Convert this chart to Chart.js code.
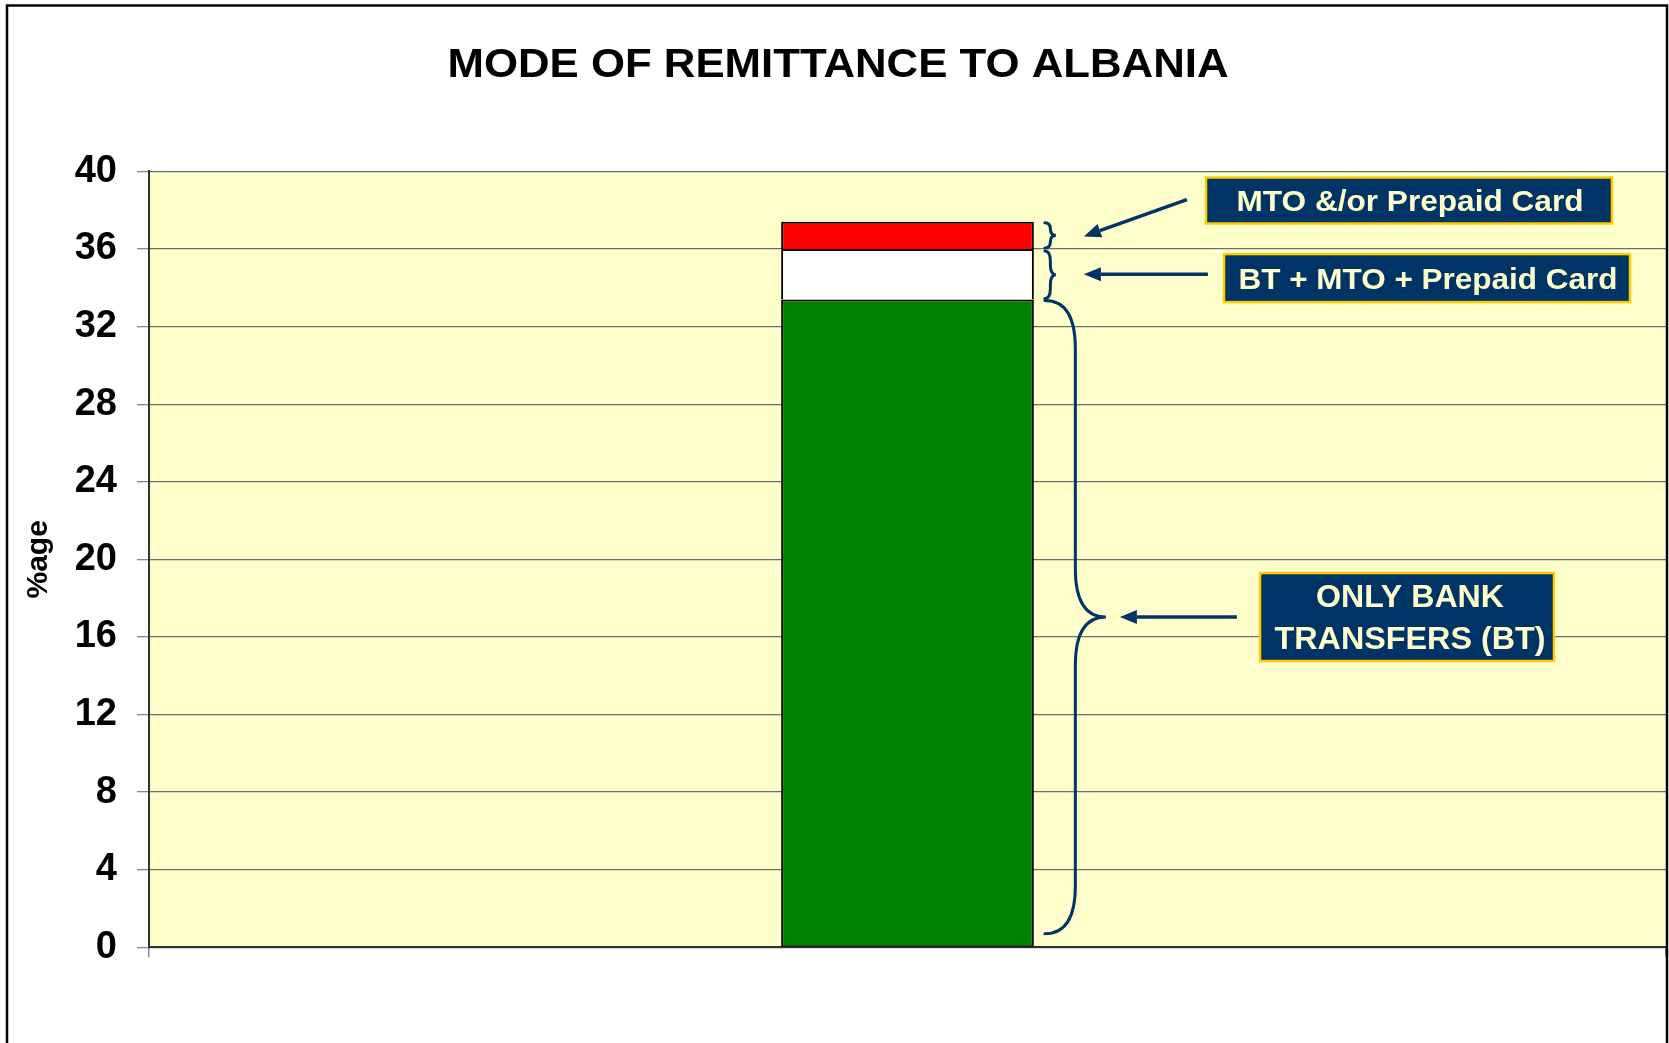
<!DOCTYPE html>
<html>
<head>
<meta charset="utf-8">
<title>Mode of remittance to Albania</title>
<script src="https://cdn.jsdelivr.net/npm/chart.js@4.4.0/dist/chart.umd.min.js"></script>
<style>
  html, body { margin: 0; padding: 0; background: #fff; overflow: hidden; }
  canvas { display: block; }
</style>
</head>
<body>
<canvas id="remit" width="1669" height="1043"></canvas>
<script>
// data
const categories = ['Albania'];
const onlyBankTransfers = [33.4];
const btMtoPrepaid = [2.6];
const mtoPrepaid = [1.4];
const chartTitle = 'MODE OF REMITTANCE TO ALBANIA';
const yAxisTitle = '%age';
const calloutTexts = [
    ['MTO &/or Prepaid Card'],
    ['BT + MTO + Prepaid Card'],
    ['ONLY BANK', 'TRANSFERS (BT)']
];

const NAVY = '#003366';
const BOX_BORDER = '#FFCC00';
const BOX_TEXT = '#FFFFCC';

// draw text squeezed / stretched to a given width
function fitText(ctx, text, cx, baseline, width, font, color) {
    ctx.save();
    ctx.font = font;
    ctx.fillStyle = color;
    ctx.textAlign = 'center';
    ctx.textBaseline = 'alphabetic';
    const w = ctx.measureText(text).width;
    ctx.translate(cx, baseline);
    ctx.scale(width / w, 1);
    ctx.fillText(text, 0, 0);
    ctx.restore();
}

function drawBrace(ctx, x, yTop, yBot, depth, r) {
    const half = depth / 2;
    const mid = (yTop + yBot) / 2;
    r = Math.min(r, (yBot - yTop) / 4);
    ctx.beginPath();
    ctx.moveTo(x, yTop);
    ctx.quadraticCurveTo(x + half, yTop, x + half, yTop + r);
    ctx.lineTo(x + half, mid - r);
    ctx.quadraticCurveTo(x + half, mid, x + depth, mid);
    ctx.quadraticCurveTo(x + half, mid, x + half, mid + r);
    ctx.lineTo(x + half, yBot - r);
    ctx.quadraticCurveTo(x + half, yBot, x, yBot);
    ctx.stroke();
}

function drawArrow(ctx, x1, y1, x2, y2) {
    const ang = Math.atan2(y2 - y1, x2 - x1);
    const len = 17, wid = 7;
    const bx = x2 - len * Math.cos(ang), by = y2 - len * Math.sin(ang);
    ctx.beginPath();
    ctx.moveTo(x1, y1);
    ctx.lineTo(bx, by);
    ctx.stroke();
    ctx.beginPath();
    ctx.moveTo(x2, y2);
    ctx.lineTo(bx + wid * Math.sin(ang), by - wid * Math.cos(ang));
    ctx.lineTo(bx - wid * Math.sin(ang), by + wid * Math.cos(ang));
    ctx.closePath();
    ctx.fill();
}

function drawBox(ctx, x1, y1, x2, y2) {
    ctx.fillStyle = NAVY;
    ctx.fillRect(x1, y1, x2 - x1, y2 - y1);
    ctx.strokeStyle = BOX_BORDER;
    ctx.lineWidth = 2.5;
    ctx.strokeRect(x1, y1, x2 - x1, y2 - y1);
}

const plotBackground = {
    id: 'plotBackground',
    beforeDraw(chart) {
        const {ctx, chartArea: a} = chart;
        ctx.save();
        ctx.fillStyle = '#FFFFCC';
        ctx.fillRect(a.left, a.top, a.right - a.left, a.bottom - a.top);
        ctx.restore();
    }
};

const callouts = {
    id: 'callouts',
    afterDraw(chart) {
        const ctx = chart.ctx;
        const y = chart.scales.y;
        const seg = [0, 1, 2].map(i => chart.getDatasetMeta(i).data[0].getProps(['x', 'y', 'base', 'width'], true));
        const right = seg[0].x + seg[0].width / 2;

        ctx.save();
        // title
        fitText(ctx, chartTitle, 838, 77, 781, 'bold 40px "Liberation Sans", Arial, sans-serif', '#000');

        // braces
        ctx.strokeStyle = NAVY;
        ctx.fillStyle = NAVY;
        ctx.lineWidth = 3;
        ctx.lineCap = 'round';
        const bx = right + 11;
        drawBrace(ctx, bx, seg[2].y + 1, seg[2].base - 1, 11, 8);
        drawBrace(ctx, bx, seg[1].y + 2, seg[1].base - 1, 11, 10);
        drawBrace(ctx, bx, seg[0].y + 1, seg[0].base - 13, 61, 48);

        const mid2 = (seg[2].y + seg[2].base) / 2;
        const mid1 = (seg[1].y + seg[1].base) / 2;
        const mid0 = (seg[0].y + seg[0].base - 12) / 2;

        // arrows
        ctx.lineCap = 'butt';
        ctx.lineWidth = 3.5;
        drawArrow(ctx, right + 153, y.getPixelForValue(38.55), right + 50, mid2 + 1);
        drawArrow(ctx, right + 174, mid1, right + 50, mid1);
        drawArrow(ctx, right + 203, mid0, right + 86, mid0);

        // boxes
        const c1 = y.getPixelForValue(38.5);
        drawBox(ctx, 1206, c1 - 23, 1612, c1 + 23);
        fitText(ctx, calloutTexts[0][0], 1410, c1 + 11, 347, 'bold 30px "Liberation Sans", Arial, sans-serif', BOX_TEXT);

        const c2 = y.getPixelForValue(34.5);
        drawBox(ctx, 1224, c2 - 24, 1630, c2 + 24);
        fitText(ctx, calloutTexts[1][0], 1428, c2 + 11, 379, 'bold 30px "Liberation Sans", Arial, sans-serif', BOX_TEXT);

        drawBox(ctx, 1260, mid0 - 44, 1554, mid0 + 44);
        fitText(ctx, calloutTexts[2][0], 1410, mid0 - 10, 188, 'bold 31px "Liberation Sans", Arial, sans-serif', BOX_TEXT);
        fitText(ctx, calloutTexts[2][1], 1410, mid0 + 32, 271, 'bold 31px "Liberation Sans", Arial, sans-serif', BOX_TEXT);

        // outer frame
        ctx.strokeStyle = '#000';
        ctx.lineWidth = 2.5;
        ctx.strokeRect(7, 5.5, 1660, 1100);
        ctx.restore();
    }
};

const ctx_remit = document.getElementById('remit').getContext('2d');
const remitChart = new Chart(ctx_remit, {
    type: 'bar',
    data: {
        labels: categories,
        datasets: [{
            label: 'Only bank transfers (BT)',
            data: onlyBankTransfers,
            backgroundColor: '#008000',
            borderWidth: { left: 2, right: 2, top: 2, bottom: 1.5 }
        }, {
            label: 'BT + MTO + Prepaid Card',
            data: btMtoPrepaid,
            backgroundColor: '#FFFFFF',
            borderWidth: { left: 2, right: 2, top: 2, bottom: 0 }
        }, {
            label: 'MTO &/or Prepaid Card',
            data: mtoPrepaid,
            backgroundColor: '#FF0000',
            borderWidth: { left: 2, right: 2, top: 2, bottom: 0 }
        }]
    },
    options: {
        responsive: false,
        animation: false,
        categoryPercentage: 1,
        barPercentage: 0.1666,
        datasets: {
            bar: { borderColor: '#000', borderSkipped: false }
        },
        layout: { padding: { top: 171.4, right: 3, left: 0, bottom: 0 } },
        plugins: {
            legend: { display: false },
            tooltip: { enabled: false },
            title: { display: false }
        },
        scales: {
            x: {
                stacked: true,
                offset: true,
                ticks: { display: false },
                grid: { drawOnChartArea: false, offset: true, tickLength: 10, color: '#888', lineWidth: 1.5 },
                border: { color: '#333', width: 2 },
                afterFit(scale) { scale.height = 95.7; }
            },
            y: {
                stacked: true,
                min: 0,
                max: 40,
                ticks: {
                    stepSize: 4,
                    color: '#000',
                    padding: 20,
                    font: { family: '"Liberation Sans", Arial, sans-serif', weight: 'bold', size: 38 }
                },
                grid: { color: '#6e6e6e', lineWidth: 1.3, tickLength: 12, tickColor: '#888' },
                border: { color: '#333', width: 2 },
                title: {
                    display: true,
                    text: yAxisTitle,
                    color: '#000',
                    padding: { top: 21, bottom: 0 },
                    font: { family: '"Liberation Sans", Arial, sans-serif', weight: 'bold', size: 30 }
                },
                afterFit(scale) { scale.width = 149; }
            }
        }
    },
    plugins: [plotBackground, callouts]
});
</script>
</body>
</html>
